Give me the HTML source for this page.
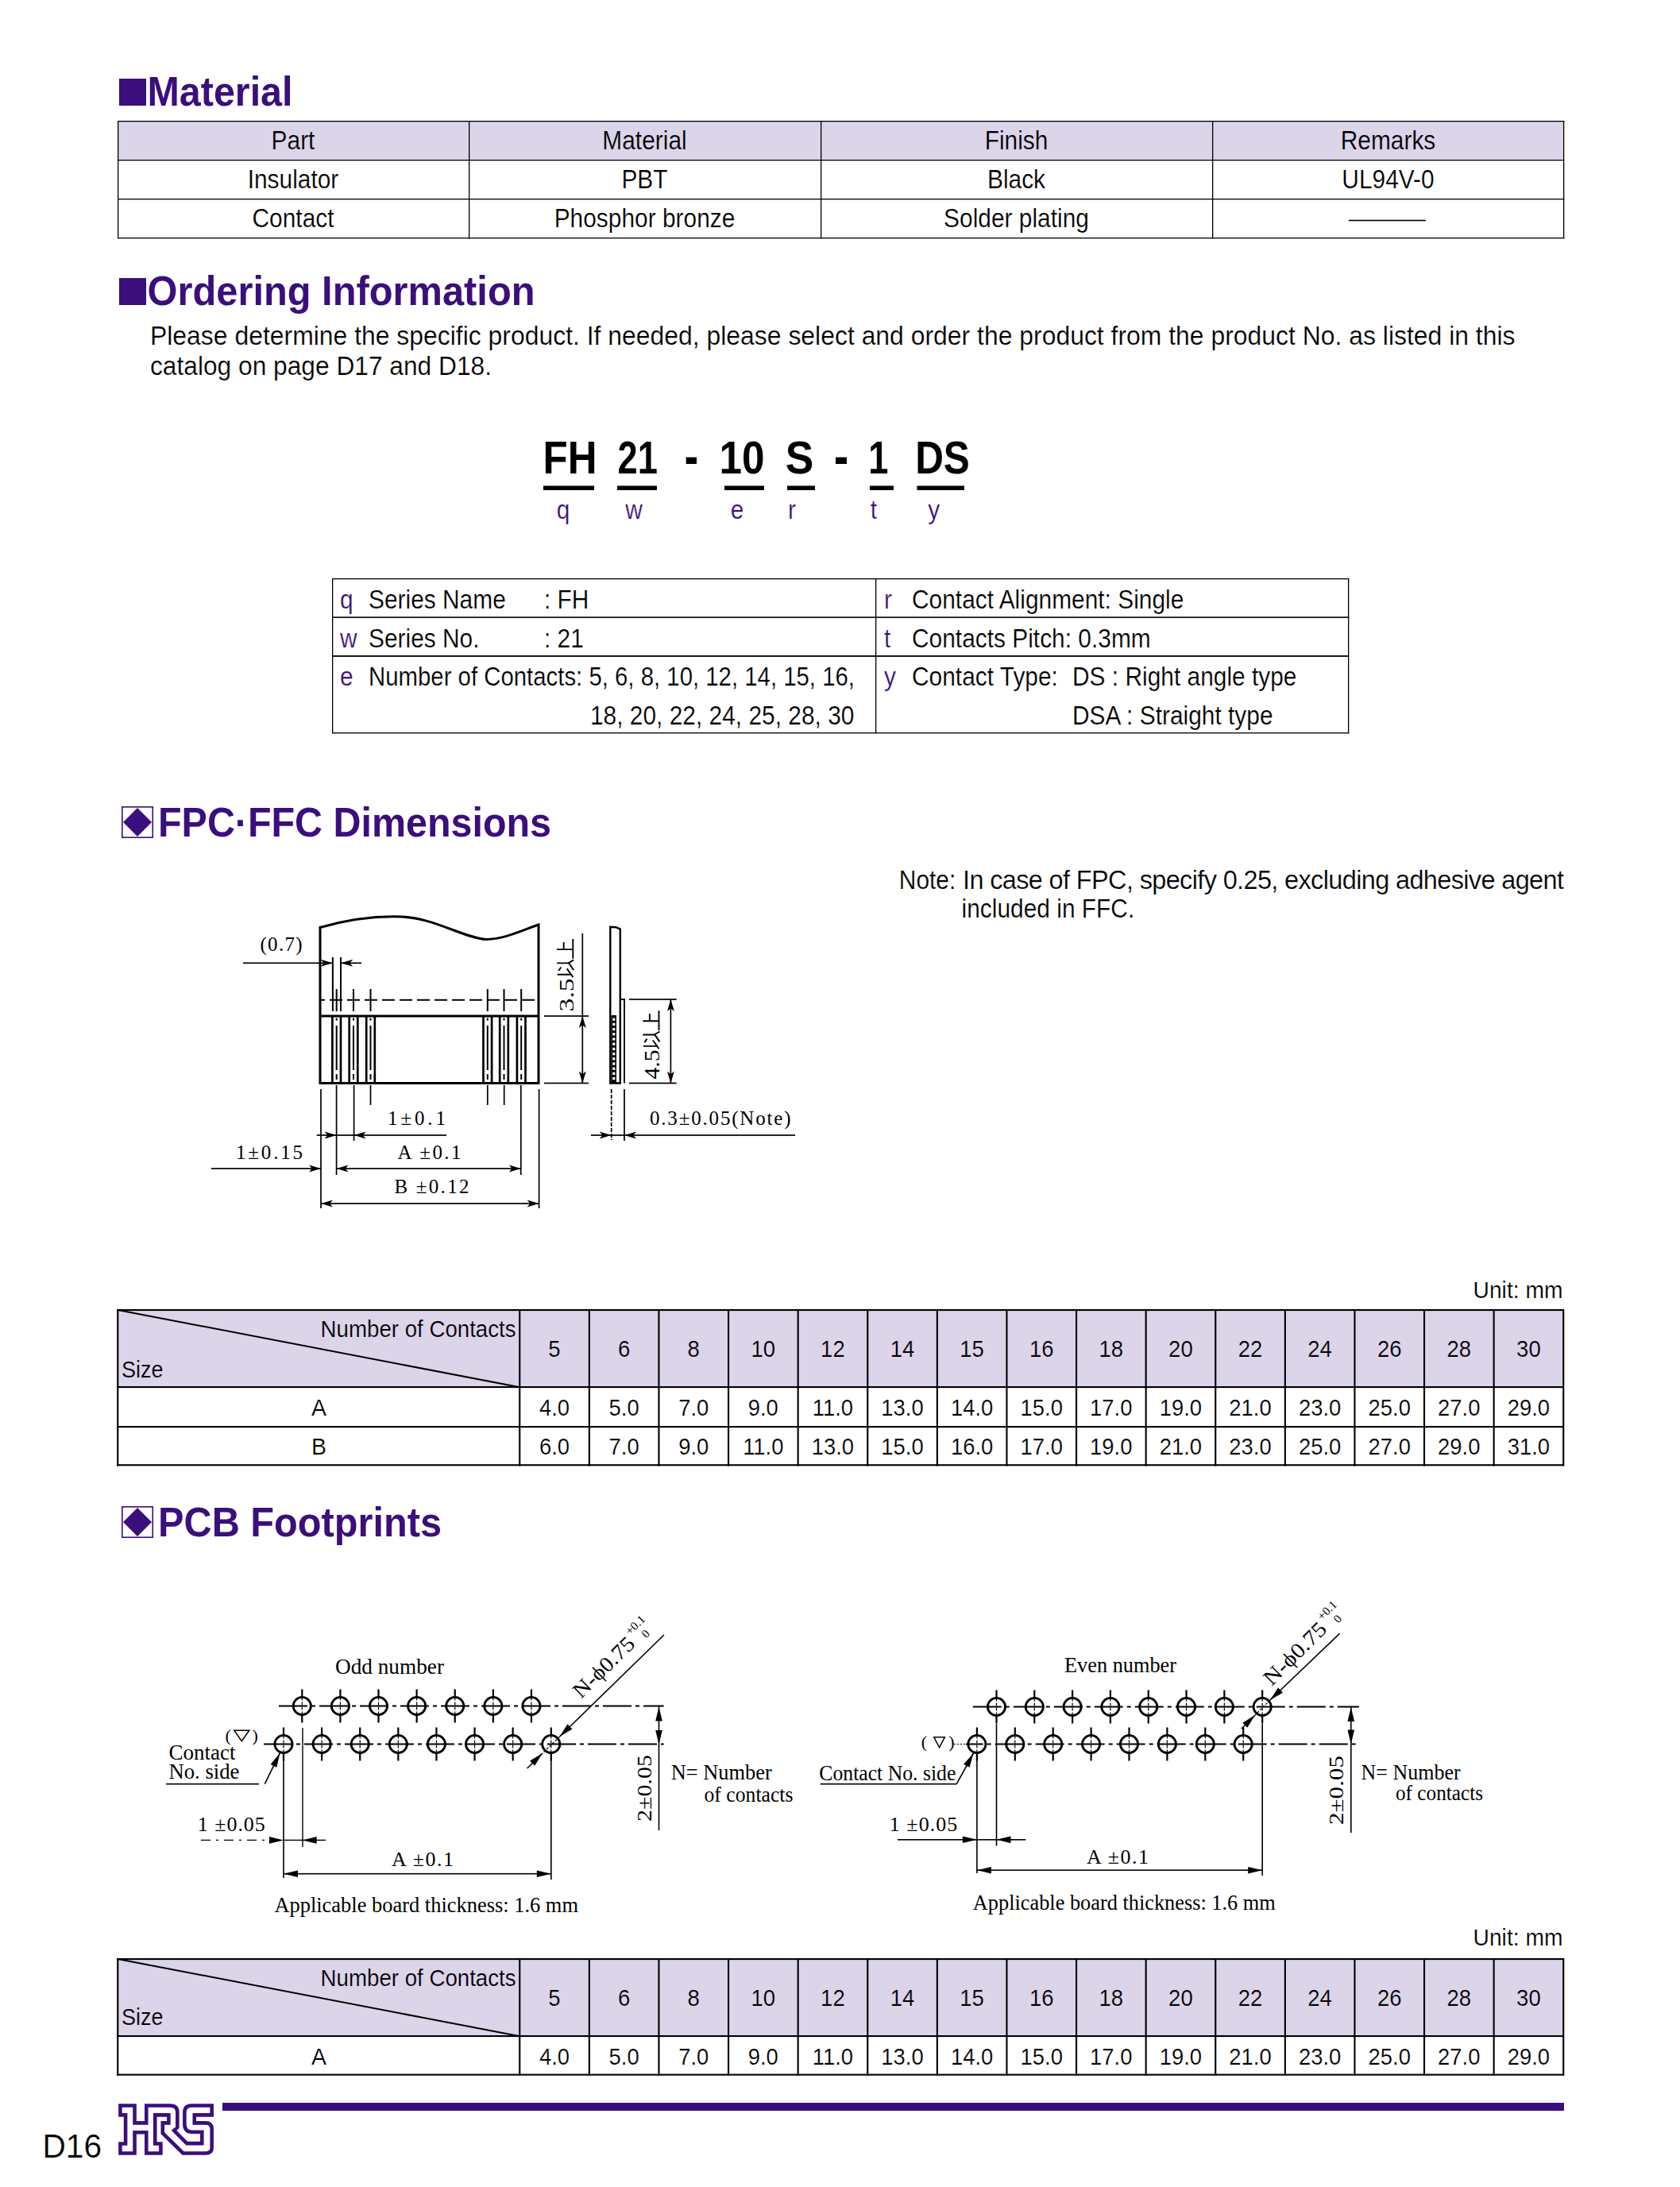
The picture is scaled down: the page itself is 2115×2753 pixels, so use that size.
<!DOCTYPE html>
<html><head><meta charset="utf-8"><title>FH21 Material / Ordering / Dimensions</title>
<style>
html,body{margin:0;padding:0;background:#fff;}
body{width:2115px;height:2753px;overflow:hidden;position:relative;}
svg{position:absolute;left:0;top:0;}
.sans{font-family:"Liberation Sans", sans-serif;}
.sans.t{stroke:#fff;stroke-width:0.22px;}
.serif{font-family:"Liberation Serif", serif;}
.mono{font-family:"Liberation Mono", monospace;}
</style></head>
<body>
<svg width="2115" height="2753" viewBox="0 0 2115 2753">
<rect x="0" y="0" width="2115" height="2753" fill="#fff"/>
<rect x="150.00" y="99.00" width="34.00" height="34.00" fill="#3b0e7d" />
<text x="185.50" y="133.00" class="sans" font-size="52" fill="#3b0e7d" font-weight="bold" textLength="183.00" lengthAdjust="spacingAndGlyphs">Material</text>
<rect x="148.00" y="152.00" width="1821.00" height="49.00" fill="#dcd4e9" />
<rect x="148.00" y="152.00" width="1821.30" height="1.30" fill="#000" />
<rect x="148.00" y="201.00" width="1821.30" height="1.30" fill="#000" />
<rect x="148.00" y="250.00" width="1821.30" height="1.30" fill="#000" />
<rect x="148.00" y="299.00" width="1821.30" height="1.30" fill="#000" />
<rect x="148.00" y="152.00" width="1.30" height="148.30" fill="#000" />
<rect x="590.00" y="152.00" width="1.30" height="148.30" fill="#000" />
<rect x="1033.00" y="152.00" width="1.30" height="148.30" fill="#000" />
<rect x="1526.00" y="152.00" width="1.30" height="148.30" fill="#000" />
<rect x="1968.00" y="152.00" width="1.30" height="148.30" fill="#000" />
<text transform="translate(369.00,188.00) scale(0.92,1)" class="sans t" font-size="32.5" text-anchor="middle" style="stroke:#dcd4e9">Part</text>
<text transform="translate(811.50,188.00) scale(0.92,1)" class="sans t" font-size="32.5" text-anchor="middle" style="stroke:#dcd4e9">Material</text>
<text transform="translate(1279.50,188.00) scale(0.92,1)" class="sans t" font-size="32.5" text-anchor="middle" style="stroke:#dcd4e9">Finish</text>
<text transform="translate(1747.50,188.00) scale(0.92,1)" class="sans t" font-size="32.5" text-anchor="middle" style="stroke:#dcd4e9">Remarks</text>
<text transform="translate(369.00,237.00) scale(0.92,1)" class="sans t" font-size="32.5" text-anchor="middle">Insulator</text>
<text transform="translate(811.50,237.00) scale(0.92,1)" class="sans t" font-size="32.5" text-anchor="middle">PBT</text>
<text transform="translate(1279.50,237.00) scale(0.92,1)" class="sans t" font-size="32.5" text-anchor="middle">Black</text>
<text transform="translate(1747.50,237.00) scale(0.92,1)" class="sans t" font-size="32.5" text-anchor="middle">UL94V-0</text>
<text transform="translate(369.00,286.00) scale(0.92,1)" class="sans t" font-size="32.5" text-anchor="middle">Contact</text>
<text transform="translate(811.50,286.00) scale(0.92,1)" class="sans t" font-size="32.5" text-anchor="middle">Phosphor bronze</text>
<text transform="translate(1279.50,286.00) scale(0.92,1)" class="sans t" font-size="32.5" text-anchor="middle">Solder plating</text>
<rect x="1698.00" y="276.70" width="97.00" height="1.60" fill="#000" />
<rect x="150.00" y="350.00" width="34.00" height="34.00" fill="#3b0e7d" />
<text x="185.50" y="384.00" class="sans" font-size="52" fill="#3b0e7d" font-weight="bold" textLength="488.00" lengthAdjust="spacingAndGlyphs">Ordering Information</text>
<text x="189.00" y="433.50" class="sans t" font-size="32.5" textLength="1718.50" lengthAdjust="spacingAndGlyphs">Please determine the specific product. If needed, please select and order the product from the product No. as listed in this</text>
<text x="189.00" y="471.70" class="sans t" font-size="32.5" textLength="430.00" lengthAdjust="spacingAndGlyphs">catalog on page D17 and D18.</text>
<text transform="translate(717.60,596) scale(0.879,1)" class="sans" font-size="58" font-weight="bold" text-anchor="middle">FH</text>
<text transform="translate(802.70,596) scale(0.78,1)" class="sans" font-size="58" font-weight="bold" text-anchor="middle">21</text>
<text transform="translate(934.00,596) scale(0.885,1)" class="sans" font-size="58" font-weight="bold" text-anchor="middle">10</text>
<text transform="translate(1006.50,596) scale(0.918,1)" class="sans" font-size="58" font-weight="bold" text-anchor="middle">S</text>
<text transform="translate(1105.75,596) scale(0.78,1)" class="sans" font-size="58" font-weight="bold" text-anchor="middle">1</text>
<text transform="translate(1186.50,596) scale(0.853,1)" class="sans" font-size="58" font-weight="bold" text-anchor="middle">DS</text>
<rect x="863.70" y="575.60" width="13.30" height="8.40" fill="#000" />
<rect x="1052.00" y="575.60" width="14.00" height="8.40" fill="#000" />
<rect x="684.00" y="611.50" width="64.00" height="5.50" fill="#000" />
<rect x="777.00" y="611.50" width="50.00" height="5.50" fill="#000" />
<rect x="912.00" y="611.50" width="50.00" height="5.50" fill="#000" />
<rect x="991.00" y="611.50" width="35.00" height="5.50" fill="#000" />
<rect x="1095.00" y="611.50" width="30.00" height="5.50" fill="#000" />
<rect x="1154.50" y="611.50" width="59.50" height="5.50" fill="#000" />
<text transform="translate(709.00,653.00) scale(0.92,1)" class="sans t" font-size="32.5" fill="#3b0e7d" text-anchor="middle">q</text>
<text transform="translate(798.00,653.00) scale(0.92,1)" class="sans t" font-size="32.5" fill="#3b0e7d" text-anchor="middle">w</text>
<text transform="translate(928.00,653.00) scale(0.92,1)" class="sans t" font-size="32.5" fill="#3b0e7d" text-anchor="middle">e</text>
<text transform="translate(997.00,653.00) scale(0.92,1)" class="sans t" font-size="32.5" fill="#3b0e7d" text-anchor="middle">r</text>
<text transform="translate(1100.00,653.00) scale(0.92,1)" class="sans t" font-size="32.5" fill="#3b0e7d" text-anchor="middle">t</text>
<text transform="translate(1175.60,653.00) scale(0.92,1)" class="sans t" font-size="32.5" fill="#3b0e7d" text-anchor="middle">y</text>
<rect x="418.00" y="728.00" width="1280.30" height="1.30" fill="#000" />
<rect x="418.00" y="776.30" width="1280.30" height="1.60" fill="#000" />
<rect x="418.00" y="825.00" width="1280.30" height="1.80" fill="#000" />
<rect x="418.00" y="922.00" width="1280.30" height="1.30" fill="#000" />
<rect x="418.00" y="728.00" width="1.30" height="195.30" fill="#000" />
<rect x="1102.00" y="728.00" width="1.30" height="195.30" fill="#000" />
<rect x="1697.00" y="728.00" width="1.30" height="195.30" fill="#000" />
<text transform="translate(428.00,765.50) scale(0.92,1)" class="sans t" font-size="32.5" fill="#3b0e7d">q</text>
<text transform="translate(464.00,765.50) scale(0.92,1)" class="sans t" font-size="32.5">Series Name</text>
<text transform="translate(685.00,765.50) scale(0.92,1)" class="sans t" font-size="32.5">: FH</text>
<text transform="translate(428.00,814.50) scale(0.92,1)" class="sans t" font-size="32.5" fill="#3b0e7d">w</text>
<text transform="translate(464.00,814.50) scale(0.92,1)" class="sans t" font-size="32.5">Series No.</text>
<text transform="translate(685.00,814.50) scale(0.92,1)" class="sans t" font-size="32.5">: 21</text>
<text transform="translate(428.00,863.00) scale(0.92,1)" class="sans t" font-size="32.5" fill="#3b0e7d">e</text>
<text x="464.00" y="863.00" class="sans t" font-size="32.5" textLength="612.00" lengthAdjust="spacingAndGlyphs">Number of Contacts: 5, 6, 8, 10, 12, 14, 15, 16,</text>
<text transform="translate(743.00,911.50) scale(0.92,1)" class="sans t" font-size="32.5">18, 20, 22, 24, 25, 28, 30</text>
<text transform="translate(1113.00,765.50) scale(0.92,1)" class="sans t" font-size="32.5" fill="#3b0e7d">r</text>
<text transform="translate(1148.00,765.50) scale(0.92,1)" class="sans t" font-size="32.5">Contact Alignment: Single</text>
<text transform="translate(1113.00,814.50) scale(0.92,1)" class="sans t" font-size="32.5" fill="#3b0e7d">t</text>
<text transform="translate(1148.00,814.50) scale(0.92,1)" class="sans t" font-size="32.5">Contacts Pitch: 0.3mm</text>
<text transform="translate(1113.00,863.00) scale(0.92,1)" class="sans t" font-size="32.5" fill="#3b0e7d">y</text>
<text transform="translate(1148.00,863.00) scale(0.92,1)" class="sans t" font-size="32.5">Contact Type:</text>
<text transform="translate(1350.00,863.00) scale(0.92,1)" class="sans t" font-size="32.5">DS : Right angle type</text>
<text transform="translate(1350.00,911.50) scale(0.92,1)" class="sans t" font-size="32.5">DSA : Straight type</text>
<rect x="153.8" y="1015.80" width="38.4" height="38.4" fill="none" stroke="#3b0e7d" stroke-width="1.6"/>
<path d="M155,1035 L173,1017 L191,1035 L173,1053 Z" fill="#3b0e7d"/>
<text x="199.00" y="1053.00" class="sans" font-size="52" fill="#3b0e7d" font-weight="bold" textLength="495.00" lengthAdjust="spacingAndGlyphs">FPC·FFC Dimensions</text>
<text transform="translate(1131.80,1118.50) scale(0.92,1)" class="sans t" font-size="32.5">Note:</text>
<text x="1212.00" y="1119.00" class="sans t" font-size="32.5" textLength="757.00" lengthAdjust="spacing">In case of FPC, specify 0.25, excluding adhesive agent</text>
<text transform="translate(1210.60,1155.00) scale(0.92,1)" class="sans t" font-size="32.5">included in FFC.</text>
<text x="1967.50" y="1633.60" class="sans t" font-size="30" text-anchor="end" textLength="113.00" lengthAdjust="spacingAndGlyphs">Unit: mm</text>
<rect x="147.20" y="1648.00" width="1821.80" height="97.00" fill="#dcd4e9" />
<rect x="147.20" y="1648.00" width="1821.80" height="2.10" fill="#000" />
<rect x="147.20" y="1745.00" width="1821.80" height="2.10" fill="#000" />
<rect x="147.20" y="1795.00" width="1821.80" height="2.10" fill="#000" />
<rect x="147.20" y="1843.20" width="1821.80" height="2.10" fill="#000" />
<rect x="147.20" y="1648.00" width="2.10" height="197.50" fill="#000" />
<rect x="653.20" y="1648.00" width="2.10" height="197.50" fill="#000" />
<rect x="740.80" y="1648.00" width="2.10" height="197.50" fill="#000" />
<rect x="828.40" y="1648.00" width="2.10" height="197.50" fill="#000" />
<rect x="916.00" y="1648.00" width="2.10" height="197.50" fill="#000" />
<rect x="1003.60" y="1648.00" width="2.10" height="197.50" fill="#000" />
<rect x="1091.20" y="1648.00" width="2.10" height="197.50" fill="#000" />
<rect x="1178.80" y="1648.00" width="2.10" height="197.50" fill="#000" />
<rect x="1266.40" y="1648.00" width="2.10" height="197.50" fill="#000" />
<rect x="1354.00" y="1648.00" width="2.10" height="197.50" fill="#000" />
<rect x="1441.60" y="1648.00" width="2.10" height="197.50" fill="#000" />
<rect x="1529.20" y="1648.00" width="2.10" height="197.50" fill="#000" />
<rect x="1616.80" y="1648.00" width="2.10" height="197.50" fill="#000" />
<rect x="1704.40" y="1648.00" width="2.10" height="197.50" fill="#000" />
<rect x="1792.00" y="1648.00" width="2.10" height="197.50" fill="#000" />
<rect x="1879.60" y="1648.00" width="2.10" height="197.50" fill="#000" />
<rect x="1967.20" y="1648.00" width="2.10" height="197.50" fill="#000" />
<line x1="148.20" y1="1649.00" x2="653.20" y2="1746.00" stroke="#000" stroke-width="2.0" />
<text x="649.60" y="1683.00" class="sans t" font-size="29" text-anchor="end" textLength="246.00" lengthAdjust="spacingAndGlyphs" style="stroke:#dcd4e9">Number of Contacts</text>
<text x="153.00" y="1733.50" class="sans t" font-size="29.5" textLength="52.50" lengthAdjust="spacingAndGlyphs" style="stroke:#dcd4e9">Size</text>
<text transform="translate(698.00,1707.50) scale(0.95,1)" class="sans t" font-size="29" text-anchor="middle" style="stroke:#dcd4e9">5</text>
<text transform="translate(785.60,1707.50) scale(0.95,1)" class="sans t" font-size="29" text-anchor="middle" style="stroke:#dcd4e9">6</text>
<text transform="translate(873.20,1707.50) scale(0.95,1)" class="sans t" font-size="29" text-anchor="middle" style="stroke:#dcd4e9">8</text>
<text transform="translate(960.80,1707.50) scale(0.95,1)" class="sans t" font-size="29" text-anchor="middle" style="stroke:#dcd4e9">10</text>
<text transform="translate(1048.40,1707.50) scale(0.95,1)" class="sans t" font-size="29" text-anchor="middle" style="stroke:#dcd4e9">12</text>
<text transform="translate(1136.00,1707.50) scale(0.95,1)" class="sans t" font-size="29" text-anchor="middle" style="stroke:#dcd4e9">14</text>
<text transform="translate(1223.60,1707.50) scale(0.95,1)" class="sans t" font-size="29" text-anchor="middle" style="stroke:#dcd4e9">15</text>
<text transform="translate(1311.20,1707.50) scale(0.95,1)" class="sans t" font-size="29" text-anchor="middle" style="stroke:#dcd4e9">16</text>
<text transform="translate(1398.80,1707.50) scale(0.95,1)" class="sans t" font-size="29" text-anchor="middle" style="stroke:#dcd4e9">18</text>
<text transform="translate(1486.40,1707.50) scale(0.95,1)" class="sans t" font-size="29" text-anchor="middle" style="stroke:#dcd4e9">20</text>
<text transform="translate(1574.00,1707.50) scale(0.95,1)" class="sans t" font-size="29" text-anchor="middle" style="stroke:#dcd4e9">22</text>
<text transform="translate(1661.60,1707.50) scale(0.95,1)" class="sans t" font-size="29" text-anchor="middle" style="stroke:#dcd4e9">24</text>
<text transform="translate(1749.20,1707.50) scale(0.95,1)" class="sans t" font-size="29" text-anchor="middle" style="stroke:#dcd4e9">26</text>
<text transform="translate(1836.80,1707.50) scale(0.95,1)" class="sans t" font-size="29" text-anchor="middle" style="stroke:#dcd4e9">28</text>
<text transform="translate(1924.40,1707.50) scale(0.95,1)" class="sans t" font-size="29" text-anchor="middle" style="stroke:#dcd4e9">30</text>
<text transform="translate(401.50,1782.10) scale(0.95,1)" class="sans t" font-size="30" text-anchor="middle">A</text>
<text transform="translate(698.00,1782.10) scale(0.93,1)" class="sans t" font-size="29.5" text-anchor="middle">4.0</text>
<text transform="translate(785.60,1782.10) scale(0.93,1)" class="sans t" font-size="29.5" text-anchor="middle">5.0</text>
<text transform="translate(873.20,1782.10) scale(0.93,1)" class="sans t" font-size="29.5" text-anchor="middle">7.0</text>
<text transform="translate(960.80,1782.10) scale(0.93,1)" class="sans t" font-size="29.5" text-anchor="middle">9.0</text>
<text transform="translate(1048.40,1782.10) scale(0.93,1)" class="sans t" font-size="29.5" text-anchor="middle">11.0</text>
<text transform="translate(1136.00,1782.10) scale(0.93,1)" class="sans t" font-size="29.5" text-anchor="middle">13.0</text>
<text transform="translate(1223.60,1782.10) scale(0.93,1)" class="sans t" font-size="29.5" text-anchor="middle">14.0</text>
<text transform="translate(1311.20,1782.10) scale(0.93,1)" class="sans t" font-size="29.5" text-anchor="middle">15.0</text>
<text transform="translate(1398.80,1782.10) scale(0.93,1)" class="sans t" font-size="29.5" text-anchor="middle">17.0</text>
<text transform="translate(1486.40,1782.10) scale(0.93,1)" class="sans t" font-size="29.5" text-anchor="middle">19.0</text>
<text transform="translate(1574.00,1782.10) scale(0.93,1)" class="sans t" font-size="29.5" text-anchor="middle">21.0</text>
<text transform="translate(1661.60,1782.10) scale(0.93,1)" class="sans t" font-size="29.5" text-anchor="middle">23.0</text>
<text transform="translate(1749.20,1782.10) scale(0.93,1)" class="sans t" font-size="29.5" text-anchor="middle">25.0</text>
<text transform="translate(1836.80,1782.10) scale(0.93,1)" class="sans t" font-size="29.5" text-anchor="middle">27.0</text>
<text transform="translate(1924.40,1782.10) scale(0.93,1)" class="sans t" font-size="29.5" text-anchor="middle">29.0</text>
<text transform="translate(401.50,1831.40) scale(0.95,1)" class="sans t" font-size="30" text-anchor="middle">B</text>
<text transform="translate(698.00,1831.40) scale(0.93,1)" class="sans t" font-size="29.5" text-anchor="middle">6.0</text>
<text transform="translate(785.60,1831.40) scale(0.93,1)" class="sans t" font-size="29.5" text-anchor="middle">7.0</text>
<text transform="translate(873.20,1831.40) scale(0.93,1)" class="sans t" font-size="29.5" text-anchor="middle">9.0</text>
<text transform="translate(960.80,1831.40) scale(0.93,1)" class="sans t" font-size="29.5" text-anchor="middle">11.0</text>
<text transform="translate(1048.40,1831.40) scale(0.93,1)" class="sans t" font-size="29.5" text-anchor="middle">13.0</text>
<text transform="translate(1136.00,1831.40) scale(0.93,1)" class="sans t" font-size="29.5" text-anchor="middle">15.0</text>
<text transform="translate(1223.60,1831.40) scale(0.93,1)" class="sans t" font-size="29.5" text-anchor="middle">16.0</text>
<text transform="translate(1311.20,1831.40) scale(0.93,1)" class="sans t" font-size="29.5" text-anchor="middle">17.0</text>
<text transform="translate(1398.80,1831.40) scale(0.93,1)" class="sans t" font-size="29.5" text-anchor="middle">19.0</text>
<text transform="translate(1486.40,1831.40) scale(0.93,1)" class="sans t" font-size="29.5" text-anchor="middle">21.0</text>
<text transform="translate(1574.00,1831.40) scale(0.93,1)" class="sans t" font-size="29.5" text-anchor="middle">23.0</text>
<text transform="translate(1661.60,1831.40) scale(0.93,1)" class="sans t" font-size="29.5" text-anchor="middle">25.0</text>
<text transform="translate(1749.20,1831.40) scale(0.93,1)" class="sans t" font-size="29.5" text-anchor="middle">27.0</text>
<text transform="translate(1836.80,1831.40) scale(0.93,1)" class="sans t" font-size="29.5" text-anchor="middle">29.0</text>
<text transform="translate(1924.40,1831.40) scale(0.93,1)" class="sans t" font-size="29.5" text-anchor="middle">31.0</text>
<rect x="153.8" y="1896.80" width="38.4" height="38.4" fill="none" stroke="#3b0e7d" stroke-width="1.6"/>
<path d="M155,1916 L173,1898 L191,1916 L173,1934 Z" fill="#3b0e7d"/>
<text x="199.00" y="1934.00" class="sans" font-size="52" fill="#3b0e7d" font-weight="bold" textLength="357.00" lengthAdjust="spacingAndGlyphs">PCB Footprints</text>
<text x="1967.50" y="2449.00" class="sans t" font-size="30" text-anchor="end" textLength="113.00" lengthAdjust="spacingAndGlyphs">Unit: mm</text>
<rect x="147.20" y="2465.00" width="1821.80" height="97.00" fill="#dcd4e9" />
<rect x="147.20" y="2465.00" width="1821.80" height="2.10" fill="#000" />
<rect x="147.20" y="2562.00" width="1821.80" height="2.10" fill="#000" />
<rect x="147.20" y="2610.60" width="1821.80" height="2.10" fill="#000" />
<rect x="147.20" y="2465.00" width="2.10" height="147.90" fill="#000" />
<rect x="653.20" y="2465.00" width="2.10" height="147.90" fill="#000" />
<rect x="740.80" y="2465.00" width="2.10" height="147.90" fill="#000" />
<rect x="828.40" y="2465.00" width="2.10" height="147.90" fill="#000" />
<rect x="916.00" y="2465.00" width="2.10" height="147.90" fill="#000" />
<rect x="1003.60" y="2465.00" width="2.10" height="147.90" fill="#000" />
<rect x="1091.20" y="2465.00" width="2.10" height="147.90" fill="#000" />
<rect x="1178.80" y="2465.00" width="2.10" height="147.90" fill="#000" />
<rect x="1266.40" y="2465.00" width="2.10" height="147.90" fill="#000" />
<rect x="1354.00" y="2465.00" width="2.10" height="147.90" fill="#000" />
<rect x="1441.60" y="2465.00" width="2.10" height="147.90" fill="#000" />
<rect x="1529.20" y="2465.00" width="2.10" height="147.90" fill="#000" />
<rect x="1616.80" y="2465.00" width="2.10" height="147.90" fill="#000" />
<rect x="1704.40" y="2465.00" width="2.10" height="147.90" fill="#000" />
<rect x="1792.00" y="2465.00" width="2.10" height="147.90" fill="#000" />
<rect x="1879.60" y="2465.00" width="2.10" height="147.90" fill="#000" />
<rect x="1967.20" y="2465.00" width="2.10" height="147.90" fill="#000" />
<line x1="148.20" y1="2466.00" x2="653.20" y2="2563.00" stroke="#000" stroke-width="2.0" />
<text x="649.60" y="2500.00" class="sans t" font-size="29" text-anchor="end" textLength="246.00" lengthAdjust="spacingAndGlyphs" style="stroke:#dcd4e9">Number of Contacts</text>
<text x="153.00" y="2549.00" class="sans t" font-size="29.5" textLength="52.50" lengthAdjust="spacingAndGlyphs" style="stroke:#dcd4e9">Size</text>
<text transform="translate(698.00,2524.50) scale(0.95,1)" class="sans t" font-size="29" text-anchor="middle" style="stroke:#dcd4e9">5</text>
<text transform="translate(785.60,2524.50) scale(0.95,1)" class="sans t" font-size="29" text-anchor="middle" style="stroke:#dcd4e9">6</text>
<text transform="translate(873.20,2524.50) scale(0.95,1)" class="sans t" font-size="29" text-anchor="middle" style="stroke:#dcd4e9">8</text>
<text transform="translate(960.80,2524.50) scale(0.95,1)" class="sans t" font-size="29" text-anchor="middle" style="stroke:#dcd4e9">10</text>
<text transform="translate(1048.40,2524.50) scale(0.95,1)" class="sans t" font-size="29" text-anchor="middle" style="stroke:#dcd4e9">12</text>
<text transform="translate(1136.00,2524.50) scale(0.95,1)" class="sans t" font-size="29" text-anchor="middle" style="stroke:#dcd4e9">14</text>
<text transform="translate(1223.60,2524.50) scale(0.95,1)" class="sans t" font-size="29" text-anchor="middle" style="stroke:#dcd4e9">15</text>
<text transform="translate(1311.20,2524.50) scale(0.95,1)" class="sans t" font-size="29" text-anchor="middle" style="stroke:#dcd4e9">16</text>
<text transform="translate(1398.80,2524.50) scale(0.95,1)" class="sans t" font-size="29" text-anchor="middle" style="stroke:#dcd4e9">18</text>
<text transform="translate(1486.40,2524.50) scale(0.95,1)" class="sans t" font-size="29" text-anchor="middle" style="stroke:#dcd4e9">20</text>
<text transform="translate(1574.00,2524.50) scale(0.95,1)" class="sans t" font-size="29" text-anchor="middle" style="stroke:#dcd4e9">22</text>
<text transform="translate(1661.60,2524.50) scale(0.95,1)" class="sans t" font-size="29" text-anchor="middle" style="stroke:#dcd4e9">24</text>
<text transform="translate(1749.20,2524.50) scale(0.95,1)" class="sans t" font-size="29" text-anchor="middle" style="stroke:#dcd4e9">26</text>
<text transform="translate(1836.80,2524.50) scale(0.95,1)" class="sans t" font-size="29" text-anchor="middle" style="stroke:#dcd4e9">28</text>
<text transform="translate(1924.40,2524.50) scale(0.95,1)" class="sans t" font-size="29" text-anchor="middle" style="stroke:#dcd4e9">30</text>
<text transform="translate(401.50,2599.10) scale(0.95,1)" class="sans t" font-size="30" text-anchor="middle">A</text>
<text transform="translate(698.00,2599.10) scale(0.93,1)" class="sans t" font-size="29.5" text-anchor="middle">4.0</text>
<text transform="translate(785.60,2599.10) scale(0.93,1)" class="sans t" font-size="29.5" text-anchor="middle">5.0</text>
<text transform="translate(873.20,2599.10) scale(0.93,1)" class="sans t" font-size="29.5" text-anchor="middle">7.0</text>
<text transform="translate(960.80,2599.10) scale(0.93,1)" class="sans t" font-size="29.5" text-anchor="middle">9.0</text>
<text transform="translate(1048.40,2599.10) scale(0.93,1)" class="sans t" font-size="29.5" text-anchor="middle">11.0</text>
<text transform="translate(1136.00,2599.10) scale(0.93,1)" class="sans t" font-size="29.5" text-anchor="middle">13.0</text>
<text transform="translate(1223.60,2599.10) scale(0.93,1)" class="sans t" font-size="29.5" text-anchor="middle">14.0</text>
<text transform="translate(1311.20,2599.10) scale(0.93,1)" class="sans t" font-size="29.5" text-anchor="middle">15.0</text>
<text transform="translate(1398.80,2599.10) scale(0.93,1)" class="sans t" font-size="29.5" text-anchor="middle">17.0</text>
<text transform="translate(1486.40,2599.10) scale(0.93,1)" class="sans t" font-size="29.5" text-anchor="middle">19.0</text>
<text transform="translate(1574.00,2599.10) scale(0.93,1)" class="sans t" font-size="29.5" text-anchor="middle">21.0</text>
<text transform="translate(1661.60,2599.10) scale(0.93,1)" class="sans t" font-size="29.5" text-anchor="middle">23.0</text>
<text transform="translate(1749.20,2599.10) scale(0.93,1)" class="sans t" font-size="29.5" text-anchor="middle">25.0</text>
<text transform="translate(1836.80,2599.10) scale(0.93,1)" class="sans t" font-size="29.5" text-anchor="middle">27.0</text>
<text transform="translate(1924.40,2599.10) scale(0.93,1)" class="sans t" font-size="29.5" text-anchor="middle">29.0</text>
<rect x="280.00" y="2647.00" width="1689.00" height="10.00" fill="#3b0e7d" />
<text x="53.50" y="2715.50" class="sans t" font-size="43" textLength="74.50" lengthAdjust="spacingAndGlyphs">D16</text>
<g transform="translate(140,2640) scale(0.095238)"><path d="M120,110 L310,110 L310,340 L465,340 L465,110 L780,110 Q875,110 875,200 L875,400 L830,440 L1000,610 L1200,610 L1200,460 L1070,460 Q970,460 970,360 L970,200 Q970,110 1060,110 L1330,110 L1330,235 L1100,235 L1100,340 L1250,340 Q1330,340 1330,420 L1330,670 Q1330,740 1250,740 L950,740 L680,475 L680,340 L760,340 L760,235 L580,235 L580,615 L655,615 L655,740 L465,740 L465,465 L310,465 L310,740 L120,740 L120,615 L190,615 L190,235 L120,235 Z" fill="none" stroke="#3b0e7d" stroke-width="48" stroke-linejoin="miter"/></g>
<path d="M403,1363.5 L403,1167.5 C440,1157 475,1153 505,1154 C545,1155 585,1181 612,1182.5 C635,1182 655,1172 678,1164 L678,1363.5 Z" fill="none" stroke="#000" stroke-width="3.0" stroke-linejoin="miter"/>
<rect x="403.00" y="1277.50" width="275.00" height="3.00" fill="#000" />
<line x1="403" y1="1258.8" x2="678" y2="1258.8" stroke="#000" stroke-width="2" stroke-dasharray="16,6" stroke-dashoffset="10"/>
<rect x="417.05" y="1279.00" width="2.70" height="84.50" fill="#000" />
<rect x="427.65" y="1279.00" width="2.70" height="84.50" fill="#000" />
<rect x="422.70" y="1281.60" width="2.00" height="3.00" fill="#000" />
<rect x="422.70" y="1291.00" width="2.00" height="56.00" fill="#000" />
<rect x="422.70" y="1352.00" width="2.00" height="7.00" fill="#000" />
<rect x="422.70" y="1245.00" width="2.00" height="28.00" fill="#000" />
<rect x="438.35" y="1279.00" width="2.70" height="84.50" fill="#000" />
<rect x="448.95" y="1279.00" width="2.70" height="84.50" fill="#000" />
<rect x="444.00" y="1281.60" width="2.00" height="3.00" fill="#000" />
<rect x="444.00" y="1291.00" width="2.00" height="56.00" fill="#000" />
<rect x="444.00" y="1352.00" width="2.00" height="7.00" fill="#000" />
<rect x="444.00" y="1245.00" width="2.00" height="28.00" fill="#000" />
<rect x="459.85" y="1279.00" width="2.70" height="84.50" fill="#000" />
<rect x="470.45" y="1279.00" width="2.70" height="84.50" fill="#000" />
<rect x="465.50" y="1281.60" width="2.00" height="3.00" fill="#000" />
<rect x="465.50" y="1291.00" width="2.00" height="56.00" fill="#000" />
<rect x="465.50" y="1352.00" width="2.00" height="7.00" fill="#000" />
<rect x="465.50" y="1245.00" width="2.00" height="28.00" fill="#000" />
<rect x="607.15" y="1279.00" width="2.70" height="84.50" fill="#000" />
<rect x="617.75" y="1279.00" width="2.70" height="84.50" fill="#000" />
<rect x="612.80" y="1281.60" width="2.00" height="3.00" fill="#000" />
<rect x="612.80" y="1291.00" width="2.00" height="56.00" fill="#000" />
<rect x="612.80" y="1352.00" width="2.00" height="7.00" fill="#000" />
<rect x="612.80" y="1245.00" width="2.00" height="28.00" fill="#000" />
<rect x="627.85" y="1279.00" width="2.70" height="84.50" fill="#000" />
<rect x="638.45" y="1279.00" width="2.70" height="84.50" fill="#000" />
<rect x="633.50" y="1281.60" width="2.00" height="3.00" fill="#000" />
<rect x="633.50" y="1291.00" width="2.00" height="56.00" fill="#000" />
<rect x="633.50" y="1352.00" width="2.00" height="7.00" fill="#000" />
<rect x="633.50" y="1245.00" width="2.00" height="28.00" fill="#000" />
<rect x="649.55" y="1279.00" width="2.70" height="84.50" fill="#000" />
<rect x="660.15" y="1279.00" width="2.70" height="84.50" fill="#000" />
<rect x="655.20" y="1281.60" width="2.00" height="3.00" fill="#000" />
<rect x="655.20" y="1291.00" width="2.00" height="56.00" fill="#000" />
<rect x="655.20" y="1352.00" width="2.00" height="7.00" fill="#000" />
<rect x="655.20" y="1245.00" width="2.00" height="28.00" fill="#000" />
<rect x="417.90" y="1205.00" width="2.00" height="68.00" fill="#000" />
<rect x="428.00" y="1205.00" width="2.00" height="68.00" fill="#000" />
<rect x="306.00" y="1211.45" width="112.80" height="1.70" fill="#000" />
<path d="M418.80,1212.30 L403.80,1216.80 L407.55,1212.30 L403.80,1207.80 Z" fill="#000"/>
<rect x="429.20" y="1211.45" width="25.80" height="1.70" fill="#000" />
<path d="M429.20,1212.30 L444.20,1207.80 L440.45,1212.30 L444.20,1216.80 Z" fill="#000"/>
<text x="354.00" y="1197.00" class="serif" font-size="25" text-anchor="middle" textLength="53.00" lengthAdjust="spacing">(0.7)</text>
<rect x="403.15" y="1371.00" width="1.70" height="150.00" fill="#000" />
<rect x="677.75" y="1371.00" width="1.70" height="150.00" fill="#000" />
<rect x="422.75" y="1366.00" width="1.70" height="113.00" fill="#000" />
<rect x="444.75" y="1366.00" width="1.70" height="70.00" fill="#000" />
<rect x="465.65" y="1366.00" width="1.70" height="25.00" fill="#000" />
<rect x="612.95" y="1366.00" width="1.70" height="25.00" fill="#000" />
<rect x="633.85" y="1366.00" width="1.70" height="25.00" fill="#000" />
<rect x="654.95" y="1366.00" width="1.70" height="113.00" fill="#000" />
<rect x="398.70" y="1428.15" width="163.30" height="1.70" fill="#000" />
<path d="M423.60,1429.00 L408.60,1433.50 L412.35,1429.00 L408.60,1424.50 Z" fill="#000"/>
<path d="M445.60,1429.00 L460.60,1424.50 L456.85,1429.00 L460.60,1433.50 Z" fill="#000"/>
<text x="488.00" y="1416.00" class="serif" font-size="25" textLength="73.00" lengthAdjust="spacing">1±0.1</text>
<rect x="266.00" y="1470.15" width="138.00" height="1.70" fill="#000" />
<path d="M404.00,1471.00 L389.00,1475.50 L392.75,1471.00 L389.00,1466.50 Z" fill="#000"/>
<text x="297.00" y="1459.00" class="serif" font-size="25" textLength="84.00" lengthAdjust="spacing">1±0.15</text>
<rect x="423.60" y="1470.15" width="232.20" height="1.70" fill="#000" />
<path d="M423.60,1471.00 L438.60,1466.50 L434.85,1471.00 L438.60,1475.50 Z" fill="#000"/>
<path d="M655.80,1471.00 L640.80,1475.50 L644.55,1471.00 L640.80,1466.50 Z" fill="#000"/>
<text x="500.50" y="1459.00" class="serif" font-size="25" textLength="80.00" lengthAdjust="spacing">A ±0.1</text>
<rect x="404.00" y="1514.15" width="274.60" height="1.70" fill="#000" />
<path d="M404.00,1515.00 L419.00,1510.50 L415.25,1515.00 L419.00,1519.50 Z" fill="#000"/>
<path d="M678.60,1515.00 L663.60,1519.50 L667.35,1515.00 L663.60,1510.50 Z" fill="#000"/>
<text x="496.40" y="1502.00" class="serif" font-size="25" textLength="94.00" lengthAdjust="spacing">B ±0.12</text>
<rect x="685.00" y="1278.15" width="56.00" height="1.70" fill="#000" />
<rect x="685.00" y="1362.65" width="56.00" height="1.70" fill="#000" />
<rect x="732.45" y="1175.00" width="1.70" height="188.50" fill="#000" />
<path d="M733.30,1279.00 L737.80,1294.00 L733.30,1290.25 L728.80,1294.00 Z" fill="#000"/>
<path d="M733.30,1363.50 L728.80,1348.50 L733.30,1352.25 L737.80,1348.50 Z" fill="#000"/>
<g transform="translate(721.5,1229.9) rotate(-90)">
<text x="-43.50" y="0.00" class="serif" font-size="25" textLength="42.00" lengthAdjust="spacingAndGlyphs">3.5</text>
</g>
<g transform="translate(721.5,1229.9) rotate(-90)"><path d="M17.50,-19.40 L17.50,-6.00 M17.50,-6.00 L21.00,-0.00 M16.60,-4.70 L9.40,0.20 M8.60,-17.80 L11.60,-15.70 M3.10,-18.80 L3.10,-3.30 M9.80,-7.20 L0.50,-0.60 M46.90,-0.20 L24.00,-0.20 M34.80,-19.40 L34.80,-0.30 M43.00,-11.80 L34.80,-11.80" fill="none" stroke="#000" stroke-width="1.9" stroke-linecap="square"/></g>
<path d="M768.3,1363.5 L768.3,1166.8 L775.5,1167.2 L780.8,1169.6 L780.8,1363.5 Z" fill="none" stroke="#000" stroke-width="2.4"/>
<path d="M780.8,1258 L786,1258 L786,1363.5" fill="none" stroke="#000" stroke-width="1.8"/>
<rect x="769.50" y="1278.00" width="6.50" height="85.50" fill="#000" />
<rect x="771.2" y="1281.5" width="3.2" height="3.4" fill="#fff"/>
<rect x="771.2" y="1287.7" width="3.2" height="3.4" fill="#fff"/>
<rect x="771.2" y="1293.9" width="3.2" height="3.4" fill="#fff"/>
<rect x="771.2" y="1300.1" width="3.2" height="3.4" fill="#fff"/>
<rect x="771.2" y="1306.3" width="3.2" height="3.4" fill="#fff"/>
<rect x="771.2" y="1312.5" width="3.2" height="3.4" fill="#fff"/>
<rect x="771.2" y="1318.7" width="3.2" height="3.4" fill="#fff"/>
<rect x="771.2" y="1324.9" width="3.2" height="3.4" fill="#fff"/>
<rect x="771.2" y="1331.1" width="3.2" height="3.4" fill="#fff"/>
<rect x="771.2" y="1337.3" width="3.2" height="3.4" fill="#fff"/>
<rect x="771.2" y="1343.5" width="3.2" height="3.4" fill="#fff"/>
<rect x="771.2" y="1349.7" width="3.2" height="3.4" fill="#fff"/>
<rect x="771.2" y="1355.9" width="3.2" height="3.4" fill="#fff"/>
<rect x="792.00" y="1257.15" width="59.70" height="1.70" fill="#000" />
<rect x="792.00" y="1362.65" width="59.70" height="1.70" fill="#000" />
<rect x="843.55" y="1258.00" width="1.70" height="105.50" fill="#000" />
<path d="M844.40,1258.00 L848.90,1273.00 L844.40,1269.25 L839.90,1273.00 Z" fill="#000"/>
<path d="M844.40,1363.50 L839.90,1348.50 L844.40,1352.25 L848.90,1348.50 Z" fill="#000"/>
<g transform="translate(829.7,1320) rotate(-90)">
<text x="-38.50" y="0.00" class="serif" font-size="27" textLength="37.00" lengthAdjust="spacingAndGlyphs">4.5</text>
</g>
<g transform="translate(829.7,1320) rotate(-90)"><path d="M17.50,-19.40 L17.50,-6.00 M17.50,-6.00 L21.00,-0.00 M16.60,-4.70 L9.40,0.20 M8.60,-17.80 L11.60,-15.70 M3.10,-18.80 L3.10,-3.30 M9.80,-7.20 L0.50,-0.60 M46.90,-0.20 L24.00,-0.20 M34.80,-19.40 L34.80,-0.30 M43.00,-11.80 L34.80,-11.80" fill="none" stroke="#000" stroke-width="1.9" stroke-linecap="square"/></g>
<line x1="769.7" y1="1371" x2="769.7" y2="1435" stroke="#000" stroke-width="1.7" stroke-dasharray="5,2"/>
<rect x="785.15" y="1371.00" width="1.70" height="65.00" fill="#000" />
<rect x="744.00" y="1428.15" width="257.00" height="1.70" fill="#000" />
<path d="M769.70,1429.00 L754.70,1433.50 L758.45,1429.00 L754.70,1424.50 Z" fill="#000"/>
<path d="M786.00,1429.00 L801.00,1424.50 L797.25,1429.00 L801.00,1433.50 Z" fill="#000"/>
<text x="818.00" y="1416.00" class="serif" font-size="25" textLength="177.50" lengthAdjust="spacing">0.3±0.05(Note)</text>
<line x1="351" y1="2147.5" x2="835.7" y2="2147.5" stroke="#000" stroke-width="1.8" stroke-dasharray="36,5,5,5"/>
<line x1="332" y1="2195.5" x2="835.7" y2="2195.5" stroke="#000" stroke-width="1.8" stroke-dasharray="36,5,5,5"/>
<circle cx="380.30" cy="2147.5" r="11.1" fill="none" stroke="#000" stroke-width="2.8"/>
<rect x="379.20" y="2126.50" width="2.20" height="10.00" fill="#000" />
<rect x="379.20" y="2158.50" width="2.20" height="10.00" fill="#000" />
<line x1="380.30" y1="2136.5" x2="380.30" y2="2158.5" stroke="#000" stroke-width="1.2" stroke-dasharray="4,2"/>
<circle cx="428.41" cy="2147.5" r="11.1" fill="none" stroke="#000" stroke-width="2.8"/>
<rect x="427.31" y="2126.50" width="2.20" height="10.00" fill="#000" />
<rect x="427.31" y="2158.50" width="2.20" height="10.00" fill="#000" />
<line x1="428.41" y1="2136.5" x2="428.41" y2="2158.5" stroke="#000" stroke-width="1.2" stroke-dasharray="4,2"/>
<circle cx="476.52" cy="2147.5" r="11.1" fill="none" stroke="#000" stroke-width="2.8"/>
<rect x="475.42" y="2126.50" width="2.20" height="10.00" fill="#000" />
<rect x="475.42" y="2158.50" width="2.20" height="10.00" fill="#000" />
<line x1="476.52" y1="2136.5" x2="476.52" y2="2158.5" stroke="#000" stroke-width="1.2" stroke-dasharray="4,2"/>
<circle cx="524.63" cy="2147.5" r="11.1" fill="none" stroke="#000" stroke-width="2.8"/>
<rect x="523.53" y="2126.50" width="2.20" height="10.00" fill="#000" />
<rect x="523.53" y="2158.50" width="2.20" height="10.00" fill="#000" />
<line x1="524.63" y1="2136.5" x2="524.63" y2="2158.5" stroke="#000" stroke-width="1.2" stroke-dasharray="4,2"/>
<circle cx="572.74" cy="2147.5" r="11.1" fill="none" stroke="#000" stroke-width="2.8"/>
<rect x="571.64" y="2126.50" width="2.20" height="10.00" fill="#000" />
<rect x="571.64" y="2158.50" width="2.20" height="10.00" fill="#000" />
<line x1="572.74" y1="2136.5" x2="572.74" y2="2158.5" stroke="#000" stroke-width="1.2" stroke-dasharray="4,2"/>
<circle cx="620.85" cy="2147.5" r="11.1" fill="none" stroke="#000" stroke-width="2.8"/>
<rect x="619.75" y="2126.50" width="2.20" height="10.00" fill="#000" />
<rect x="619.75" y="2158.50" width="2.20" height="10.00" fill="#000" />
<line x1="620.85" y1="2136.5" x2="620.85" y2="2158.5" stroke="#000" stroke-width="1.2" stroke-dasharray="4,2"/>
<circle cx="668.96" cy="2147.5" r="11.1" fill="none" stroke="#000" stroke-width="2.8"/>
<rect x="667.86" y="2126.50" width="2.20" height="10.00" fill="#000" />
<rect x="667.86" y="2158.50" width="2.20" height="10.00" fill="#000" />
<line x1="668.96" y1="2136.5" x2="668.96" y2="2158.5" stroke="#000" stroke-width="1.2" stroke-dasharray="4,2"/>
<circle cx="357.00" cy="2195.5" r="11.1" fill="none" stroke="#000" stroke-width="2.8"/>
<rect x="355.90" y="2174.50" width="2.20" height="10.00" fill="#000" />
<rect x="355.90" y="2206.50" width="2.20" height="10.00" fill="#000" />
<line x1="357.00" y1="2184.5" x2="357.00" y2="2206.5" stroke="#000" stroke-width="1.2" stroke-dasharray="4,2"/>
<circle cx="405.11" cy="2195.5" r="11.1" fill="none" stroke="#000" stroke-width="2.8"/>
<rect x="404.01" y="2174.50" width="2.20" height="10.00" fill="#000" />
<rect x="404.01" y="2206.50" width="2.20" height="10.00" fill="#000" />
<line x1="405.11" y1="2184.5" x2="405.11" y2="2206.5" stroke="#000" stroke-width="1.2" stroke-dasharray="4,2"/>
<circle cx="453.22" cy="2195.5" r="11.1" fill="none" stroke="#000" stroke-width="2.8"/>
<rect x="452.12" y="2174.50" width="2.20" height="10.00" fill="#000" />
<rect x="452.12" y="2206.50" width="2.20" height="10.00" fill="#000" />
<line x1="453.22" y1="2184.5" x2="453.22" y2="2206.5" stroke="#000" stroke-width="1.2" stroke-dasharray="4,2"/>
<circle cx="501.33" cy="2195.5" r="11.1" fill="none" stroke="#000" stroke-width="2.8"/>
<rect x="500.23" y="2174.50" width="2.20" height="10.00" fill="#000" />
<rect x="500.23" y="2206.50" width="2.20" height="10.00" fill="#000" />
<line x1="501.33" y1="2184.5" x2="501.33" y2="2206.5" stroke="#000" stroke-width="1.2" stroke-dasharray="4,2"/>
<circle cx="549.44" cy="2195.5" r="11.1" fill="none" stroke="#000" stroke-width="2.8"/>
<rect x="548.34" y="2174.50" width="2.20" height="10.00" fill="#000" />
<rect x="548.34" y="2206.50" width="2.20" height="10.00" fill="#000" />
<line x1="549.44" y1="2184.5" x2="549.44" y2="2206.5" stroke="#000" stroke-width="1.2" stroke-dasharray="4,2"/>
<circle cx="597.55" cy="2195.5" r="11.1" fill="none" stroke="#000" stroke-width="2.8"/>
<rect x="596.45" y="2174.50" width="2.20" height="10.00" fill="#000" />
<rect x="596.45" y="2206.50" width="2.20" height="10.00" fill="#000" />
<line x1="597.55" y1="2184.5" x2="597.55" y2="2206.5" stroke="#000" stroke-width="1.2" stroke-dasharray="4,2"/>
<circle cx="645.66" cy="2195.5" r="11.1" fill="none" stroke="#000" stroke-width="2.8"/>
<rect x="644.56" y="2174.50" width="2.20" height="10.00" fill="#000" />
<rect x="644.56" y="2206.50" width="2.20" height="10.00" fill="#000" />
<line x1="645.66" y1="2184.5" x2="645.66" y2="2206.5" stroke="#000" stroke-width="1.2" stroke-dasharray="4,2"/>
<circle cx="693.77" cy="2195.5" r="11.1" fill="none" stroke="#000" stroke-width="2.8"/>
<rect x="692.67" y="2174.50" width="2.20" height="10.00" fill="#000" />
<rect x="692.67" y="2206.50" width="2.20" height="10.00" fill="#000" />
<line x1="693.77" y1="2184.5" x2="693.77" y2="2206.5" stroke="#000" stroke-width="1.2" stroke-dasharray="4,2"/>
<rect x="356.20" y="2207.00" width="1.60" height="157.00" fill="#000" />
<rect x="380.30" y="2175.00" width="1.40" height="150.00" fill="#000" />
<rect x="693.00" y="2207.00" width="1.60" height="159.00" fill="#000" />
<rect x="828.70" y="2148.00" width="1.60" height="156.00" fill="#000" />
<path d="M829.50,2148.50 L833.80,2166.50 L829.50,2166.50 L825.20,2166.50 Z" fill="#000"/>
<path d="M829.50,2196.00 L825.20,2178.00 L829.50,2178.00 L833.80,2178.00 Z" fill="#000"/>
<g transform="translate(820,2293) rotate(-90)">
<text x="0.00" y="0.00" class="serif" font-size="26" textLength="84.00" lengthAdjust="spacingAndGlyphs">2±0.05</text>
</g>
<text x="844.70" y="2239.60" class="serif" font-size="27" textLength="127.00" lengthAdjust="spacingAndGlyphs">N= Number</text>
<text x="886.50" y="2268.00" class="serif" font-size="27" textLength="112.00" lengthAdjust="spacingAndGlyphs">of contacts</text>
<text x="422.00" y="2106.50" class="serif" font-size="28" textLength="137.00" lengthAdjust="spacingAndGlyphs">Odd number</text>
<text x="283.50" y="2191.50" class="serif" font-size="22">(</text>
<text x="317.50" y="2191.50" class="serif" font-size="22">)</text>
<path d="M294.8,2178.2 L313.8,2178.2 L304.3,2191.6 Z" fill="none" stroke="#000" stroke-width="1.5" stroke-linejoin="miter"/>
<text x="212.40" y="2215.20" class="serif" font-size="28" textLength="84.00" lengthAdjust="spacingAndGlyphs">Contact</text>
<text x="212.40" y="2239.00" class="serif" font-size="28" textLength="89.00" lengthAdjust="spacingAndGlyphs">No. side</text>
<rect x="209.00" y="2244.90" width="117.00" height="1.60" fill="#000" />
<line x1="333.30" y1="2245.70" x2="352.40" y2="2206.70" stroke="#000" stroke-width="1.6" />
<path d="M352.40,2206.70 L348.34,2224.76 L344.48,2222.87 L340.62,2220.97 Z" fill="#000"/>
<text x="248.80" y="2305.00" class="serif" font-size="26" textLength="85.00" lengthAdjust="spacing">1 ±0.05</text>
<line x1="253" y1="2316.4" x2="357" y2="2316.4" stroke="#000" stroke-width="1.4" stroke-dasharray="12,7,3,7"/>
<rect x="357.00" y="2315.70" width="53.00" height="1.40" fill="#000" />
<path d="M357.00,2316.40 L339.00,2320.70 L339.00,2316.40 L339.00,2312.10 Z" fill="#000"/>
<path d="M380.60,2316.40 L398.60,2312.10 L398.60,2316.40 L398.60,2320.70 Z" fill="#000"/>
<text x="492.90" y="2349.00" class="serif" font-size="26" textLength="78.00" lengthAdjust="spacing">A ±0.1</text>
<rect x="357.00" y="2357.90" width="336.80" height="1.60" fill="#000" />
<path d="M357.00,2358.70 L375.00,2354.40 L375.00,2358.70 L375.00,2363.00 Z" fill="#000"/>
<path d="M693.80,2358.70 L675.80,2363.00 L675.80,2358.70 L675.80,2354.40 Z" fill="#000"/>
<text x="345.40" y="2407.00" class="serif" font-size="28" textLength="382.60" lengthAdjust="spacingAndGlyphs">Applicable board thickness: 1.6 mm</text>
<line x1="835.90" y1="2058.00" x2="704.60" y2="2186.00" stroke="#000" stroke-width="1.6" />
<path d="M704.60,2186.00 L714.49,2170.36 L717.49,2173.44 L720.49,2176.51 Z" fill="#000"/>
<line x1="704.6" y1="2186" x2="683" y2="2207" stroke="#000" stroke-width="1.2" stroke-dasharray="3,2"/>
<line x1="663.70" y1="2226.00" x2="683.00" y2="2207.00" stroke="#000" stroke-width="1.6" />
<path d="M683.00,2207.00 L673.19,2222.69 L670.17,2219.63 L667.16,2216.56 Z" fill="#000"/>
<g transform="translate(731.5,2139) rotate(-44.4)">
<text x="0.00" y="0.00" class="serif" font-size="27" textLength="97.00" lengthAdjust="spacingAndGlyphs">N-ϕ0.75</text>
<text x="100.00" y="-14.00" class="serif" font-size="15" textLength="28.00" lengthAdjust="spacingAndGlyphs">+0.1</text>
<text x="112.00" y="3.00" class="serif" font-size="15">0</text>
</g>
<line x1="1224.8" y1="2148.5" x2="1711" y2="2148.5" stroke="#000" stroke-width="1.8" stroke-dasharray="36,5,5,5"/>
<line x1="1201.7" y1="2195.5" x2="1711" y2="2195.5" stroke="#000" stroke-width="1.8" stroke-dasharray="36,5,5,5"/>
<circle cx="1254.50" cy="2148.5" r="11.1" fill="none" stroke="#000" stroke-width="2.8"/>
<rect x="1253.40" y="2127.50" width="2.20" height="10.00" fill="#000" />
<rect x="1253.40" y="2159.50" width="2.20" height="10.00" fill="#000" />
<line x1="1254.50" y1="2137.5" x2="1254.50" y2="2159.5" stroke="#000" stroke-width="1.2" stroke-dasharray="4,2"/>
<circle cx="1302.31" cy="2148.5" r="11.1" fill="none" stroke="#000" stroke-width="2.8"/>
<rect x="1301.21" y="2127.50" width="2.20" height="10.00" fill="#000" />
<rect x="1301.21" y="2159.50" width="2.20" height="10.00" fill="#000" />
<line x1="1302.31" y1="2137.5" x2="1302.31" y2="2159.5" stroke="#000" stroke-width="1.2" stroke-dasharray="4,2"/>
<circle cx="1350.12" cy="2148.5" r="11.1" fill="none" stroke="#000" stroke-width="2.8"/>
<rect x="1349.02" y="2127.50" width="2.20" height="10.00" fill="#000" />
<rect x="1349.02" y="2159.50" width="2.20" height="10.00" fill="#000" />
<line x1="1350.12" y1="2137.5" x2="1350.12" y2="2159.5" stroke="#000" stroke-width="1.2" stroke-dasharray="4,2"/>
<circle cx="1397.93" cy="2148.5" r="11.1" fill="none" stroke="#000" stroke-width="2.8"/>
<rect x="1396.83" y="2127.50" width="2.20" height="10.00" fill="#000" />
<rect x="1396.83" y="2159.50" width="2.20" height="10.00" fill="#000" />
<line x1="1397.93" y1="2137.5" x2="1397.93" y2="2159.5" stroke="#000" stroke-width="1.2" stroke-dasharray="4,2"/>
<circle cx="1445.74" cy="2148.5" r="11.1" fill="none" stroke="#000" stroke-width="2.8"/>
<rect x="1444.64" y="2127.50" width="2.20" height="10.00" fill="#000" />
<rect x="1444.64" y="2159.50" width="2.20" height="10.00" fill="#000" />
<line x1="1445.74" y1="2137.5" x2="1445.74" y2="2159.5" stroke="#000" stroke-width="1.2" stroke-dasharray="4,2"/>
<circle cx="1493.55" cy="2148.5" r="11.1" fill="none" stroke="#000" stroke-width="2.8"/>
<rect x="1492.45" y="2127.50" width="2.20" height="10.00" fill="#000" />
<rect x="1492.45" y="2159.50" width="2.20" height="10.00" fill="#000" />
<line x1="1493.55" y1="2137.5" x2="1493.55" y2="2159.5" stroke="#000" stroke-width="1.2" stroke-dasharray="4,2"/>
<circle cx="1541.36" cy="2148.5" r="11.1" fill="none" stroke="#000" stroke-width="2.8"/>
<rect x="1540.26" y="2127.50" width="2.20" height="10.00" fill="#000" />
<rect x="1540.26" y="2159.50" width="2.20" height="10.00" fill="#000" />
<line x1="1541.36" y1="2137.5" x2="1541.36" y2="2159.5" stroke="#000" stroke-width="1.2" stroke-dasharray="4,2"/>
<circle cx="1589.17" cy="2148.5" r="11.1" fill="none" stroke="#000" stroke-width="2.8"/>
<rect x="1588.07" y="2127.50" width="2.20" height="10.00" fill="#000" />
<rect x="1588.07" y="2159.50" width="2.20" height="10.00" fill="#000" />
<line x1="1589.17" y1="2137.5" x2="1589.17" y2="2159.5" stroke="#000" stroke-width="1.2" stroke-dasharray="4,2"/>
<circle cx="1229.90" cy="2195.5" r="11.1" fill="none" stroke="#000" stroke-width="2.8"/>
<rect x="1228.80" y="2174.50" width="2.20" height="10.00" fill="#000" />
<rect x="1228.80" y="2206.50" width="2.20" height="10.00" fill="#000" />
<line x1="1229.90" y1="2184.5" x2="1229.90" y2="2206.5" stroke="#000" stroke-width="1.2" stroke-dasharray="4,2"/>
<circle cx="1277.80" cy="2195.5" r="11.1" fill="none" stroke="#000" stroke-width="2.8"/>
<rect x="1276.70" y="2174.50" width="2.20" height="10.00" fill="#000" />
<rect x="1276.70" y="2206.50" width="2.20" height="10.00" fill="#000" />
<line x1="1277.80" y1="2184.5" x2="1277.80" y2="2206.5" stroke="#000" stroke-width="1.2" stroke-dasharray="4,2"/>
<circle cx="1325.70" cy="2195.5" r="11.1" fill="none" stroke="#000" stroke-width="2.8"/>
<rect x="1324.60" y="2174.50" width="2.20" height="10.00" fill="#000" />
<rect x="1324.60" y="2206.50" width="2.20" height="10.00" fill="#000" />
<line x1="1325.70" y1="2184.5" x2="1325.70" y2="2206.5" stroke="#000" stroke-width="1.2" stroke-dasharray="4,2"/>
<circle cx="1373.60" cy="2195.5" r="11.1" fill="none" stroke="#000" stroke-width="2.8"/>
<rect x="1372.50" y="2174.50" width="2.20" height="10.00" fill="#000" />
<rect x="1372.50" y="2206.50" width="2.20" height="10.00" fill="#000" />
<line x1="1373.60" y1="2184.5" x2="1373.60" y2="2206.5" stroke="#000" stroke-width="1.2" stroke-dasharray="4,2"/>
<circle cx="1421.50" cy="2195.5" r="11.1" fill="none" stroke="#000" stroke-width="2.8"/>
<rect x="1420.40" y="2174.50" width="2.20" height="10.00" fill="#000" />
<rect x="1420.40" y="2206.50" width="2.20" height="10.00" fill="#000" />
<line x1="1421.50" y1="2184.5" x2="1421.50" y2="2206.5" stroke="#000" stroke-width="1.2" stroke-dasharray="4,2"/>
<circle cx="1469.40" cy="2195.5" r="11.1" fill="none" stroke="#000" stroke-width="2.8"/>
<rect x="1468.30" y="2174.50" width="2.20" height="10.00" fill="#000" />
<rect x="1468.30" y="2206.50" width="2.20" height="10.00" fill="#000" />
<line x1="1469.40" y1="2184.5" x2="1469.40" y2="2206.5" stroke="#000" stroke-width="1.2" stroke-dasharray="4,2"/>
<circle cx="1517.30" cy="2195.5" r="11.1" fill="none" stroke="#000" stroke-width="2.8"/>
<rect x="1516.20" y="2174.50" width="2.20" height="10.00" fill="#000" />
<rect x="1516.20" y="2206.50" width="2.20" height="10.00" fill="#000" />
<line x1="1517.30" y1="2184.5" x2="1517.30" y2="2206.5" stroke="#000" stroke-width="1.2" stroke-dasharray="4,2"/>
<circle cx="1565.20" cy="2195.5" r="11.1" fill="none" stroke="#000" stroke-width="2.8"/>
<rect x="1564.10" y="2174.50" width="2.20" height="10.00" fill="#000" />
<rect x="1564.10" y="2206.50" width="2.20" height="10.00" fill="#000" />
<line x1="1565.20" y1="2184.5" x2="1565.20" y2="2206.5" stroke="#000" stroke-width="1.2" stroke-dasharray="4,2"/>
<rect x="1229.10" y="2207.00" width="1.60" height="151.00" fill="#000" />
<rect x="1253.70" y="2170.00" width="1.60" height="153.50" fill="#000" />
<rect x="1588.40" y="2170.00" width="1.60" height="191.00" fill="#000" />
<rect x="1700.00" y="2148.50" width="1.60" height="158.50" fill="#000" />
<path d="M1700.80,2149.00 L1705.10,2167.00 L1700.80,2167.00 L1696.50,2167.00 Z" fill="#000"/>
<path d="M1700.80,2195.50 L1696.50,2177.50 L1700.80,2177.50 L1705.10,2177.50 Z" fill="#000"/>
<g transform="translate(1690.6,2297) rotate(-90)">
<text x="0.00" y="0.00" class="serif" font-size="26" textLength="87.00" lengthAdjust="spacingAndGlyphs">2±0.05</text>
</g>
<text x="1713.60" y="2240.00" class="serif" font-size="27" textLength="125.00" lengthAdjust="spacingAndGlyphs">N= Number</text>
<text x="1757.00" y="2266.00" class="serif" font-size="27" textLength="110.00" lengthAdjust="spacingAndGlyphs">of contacts</text>
<text x="1340.00" y="2105.00" class="serif" font-size="28" textLength="141.00" lengthAdjust="spacingAndGlyphs">Even number</text>
<text x="1159.80" y="2200.00" class="serif" font-size="22">(</text>
<text x="1194.30" y="2200.00" class="serif" font-size="22">)</text>
<path d="M1175.8,2186.8 L1189.4,2186.8 L1182.6,2199.6 Z" fill="none" stroke="#000" stroke-width="1.5" stroke-linejoin="miter"/>
<line x1="1201" y1="2195.5" x2="1216" y2="2195.5" stroke="#fff" stroke-width="3"/>
<line x1="1201" y1="2195.5" x2="1216" y2="2195.5" stroke="#000" stroke-width="1.2" stroke-dasharray="2,2"/>
<text x="1031.30" y="2240.60" class="serif" font-size="28" textLength="172.00" lengthAdjust="spacingAndGlyphs">Contact No. side</text>
<rect x="1032.80" y="2244.90" width="171.50" height="1.60" fill="#000" />
<line x1="1204.30" y1="2245.70" x2="1225.50" y2="2207.00" stroke="#000" stroke-width="1.6" />
<path d="M1225.50,2207.00 L1220.62,2224.85 L1216.85,2222.79 L1213.08,2220.72 Z" fill="#000"/>
<text x="1119.80" y="2304.60" class="serif" font-size="26" textLength="85.50" lengthAdjust="spacing">1 ±0.05</text>
<rect x="1130.00" y="2315.00" width="161.30" height="1.60" fill="#000" />
<path d="M1229.90,2315.80 L1211.90,2320.10 L1211.90,2315.80 L1211.90,2311.50 Z" fill="#000"/>
<path d="M1254.50,2315.80 L1272.50,2311.50 L1272.50,2315.80 L1272.50,2320.10 Z" fill="#000"/>
<text x="1368.00" y="2345.50" class="serif" font-size="26" textLength="78.00" lengthAdjust="spacing">A ±0.1</text>
<rect x="1229.90" y="2353.40" width="359.30" height="1.60" fill="#000" />
<path d="M1229.90,2354.20 L1247.90,2349.90 L1247.90,2354.20 L1247.90,2358.50 Z" fill="#000"/>
<path d="M1589.20,2354.20 L1571.20,2358.50 L1571.20,2354.20 L1571.20,2349.90 Z" fill="#000"/>
<text x="1224.80" y="2404.40" class="serif" font-size="28" textLength="381.00" lengthAdjust="spacingAndGlyphs">Applicable board thickness: 1.6 mm</text>
<line x1="1686.70" y1="2056.20" x2="1599.00" y2="2140.00" stroke="#000" stroke-width="1.6" />
<path d="M1599.00,2140.00 L1609.04,2124.46 L1612.01,2127.56 L1614.98,2130.67 Z" fill="#000"/>
<line x1="1599" y1="2140" x2="1580" y2="2159" stroke="#000" stroke-width="1.2" stroke-dasharray="3,2"/>
<line x1="1563.00" y1="2176.00" x2="1580.00" y2="2159.00" stroke="#000" stroke-width="1.6" />
<path d="M1580.00,2159.00 L1570.31,2174.77 L1567.27,2171.73 L1564.23,2168.69 Z" fill="#000"/>
<g transform="translate(1601,2123) rotate(-44.8)">
<text x="0.00" y="0.00" class="serif" font-size="27" textLength="100.00" lengthAdjust="spacingAndGlyphs">N-ϕ0.75</text>
<text x="103.00" y="-14.00" class="serif" font-size="15" textLength="28.00" lengthAdjust="spacingAndGlyphs">+0.1</text>
<text x="115.00" y="3.00" class="serif" font-size="15">0</text>
</g>
</svg>
</body></html>
